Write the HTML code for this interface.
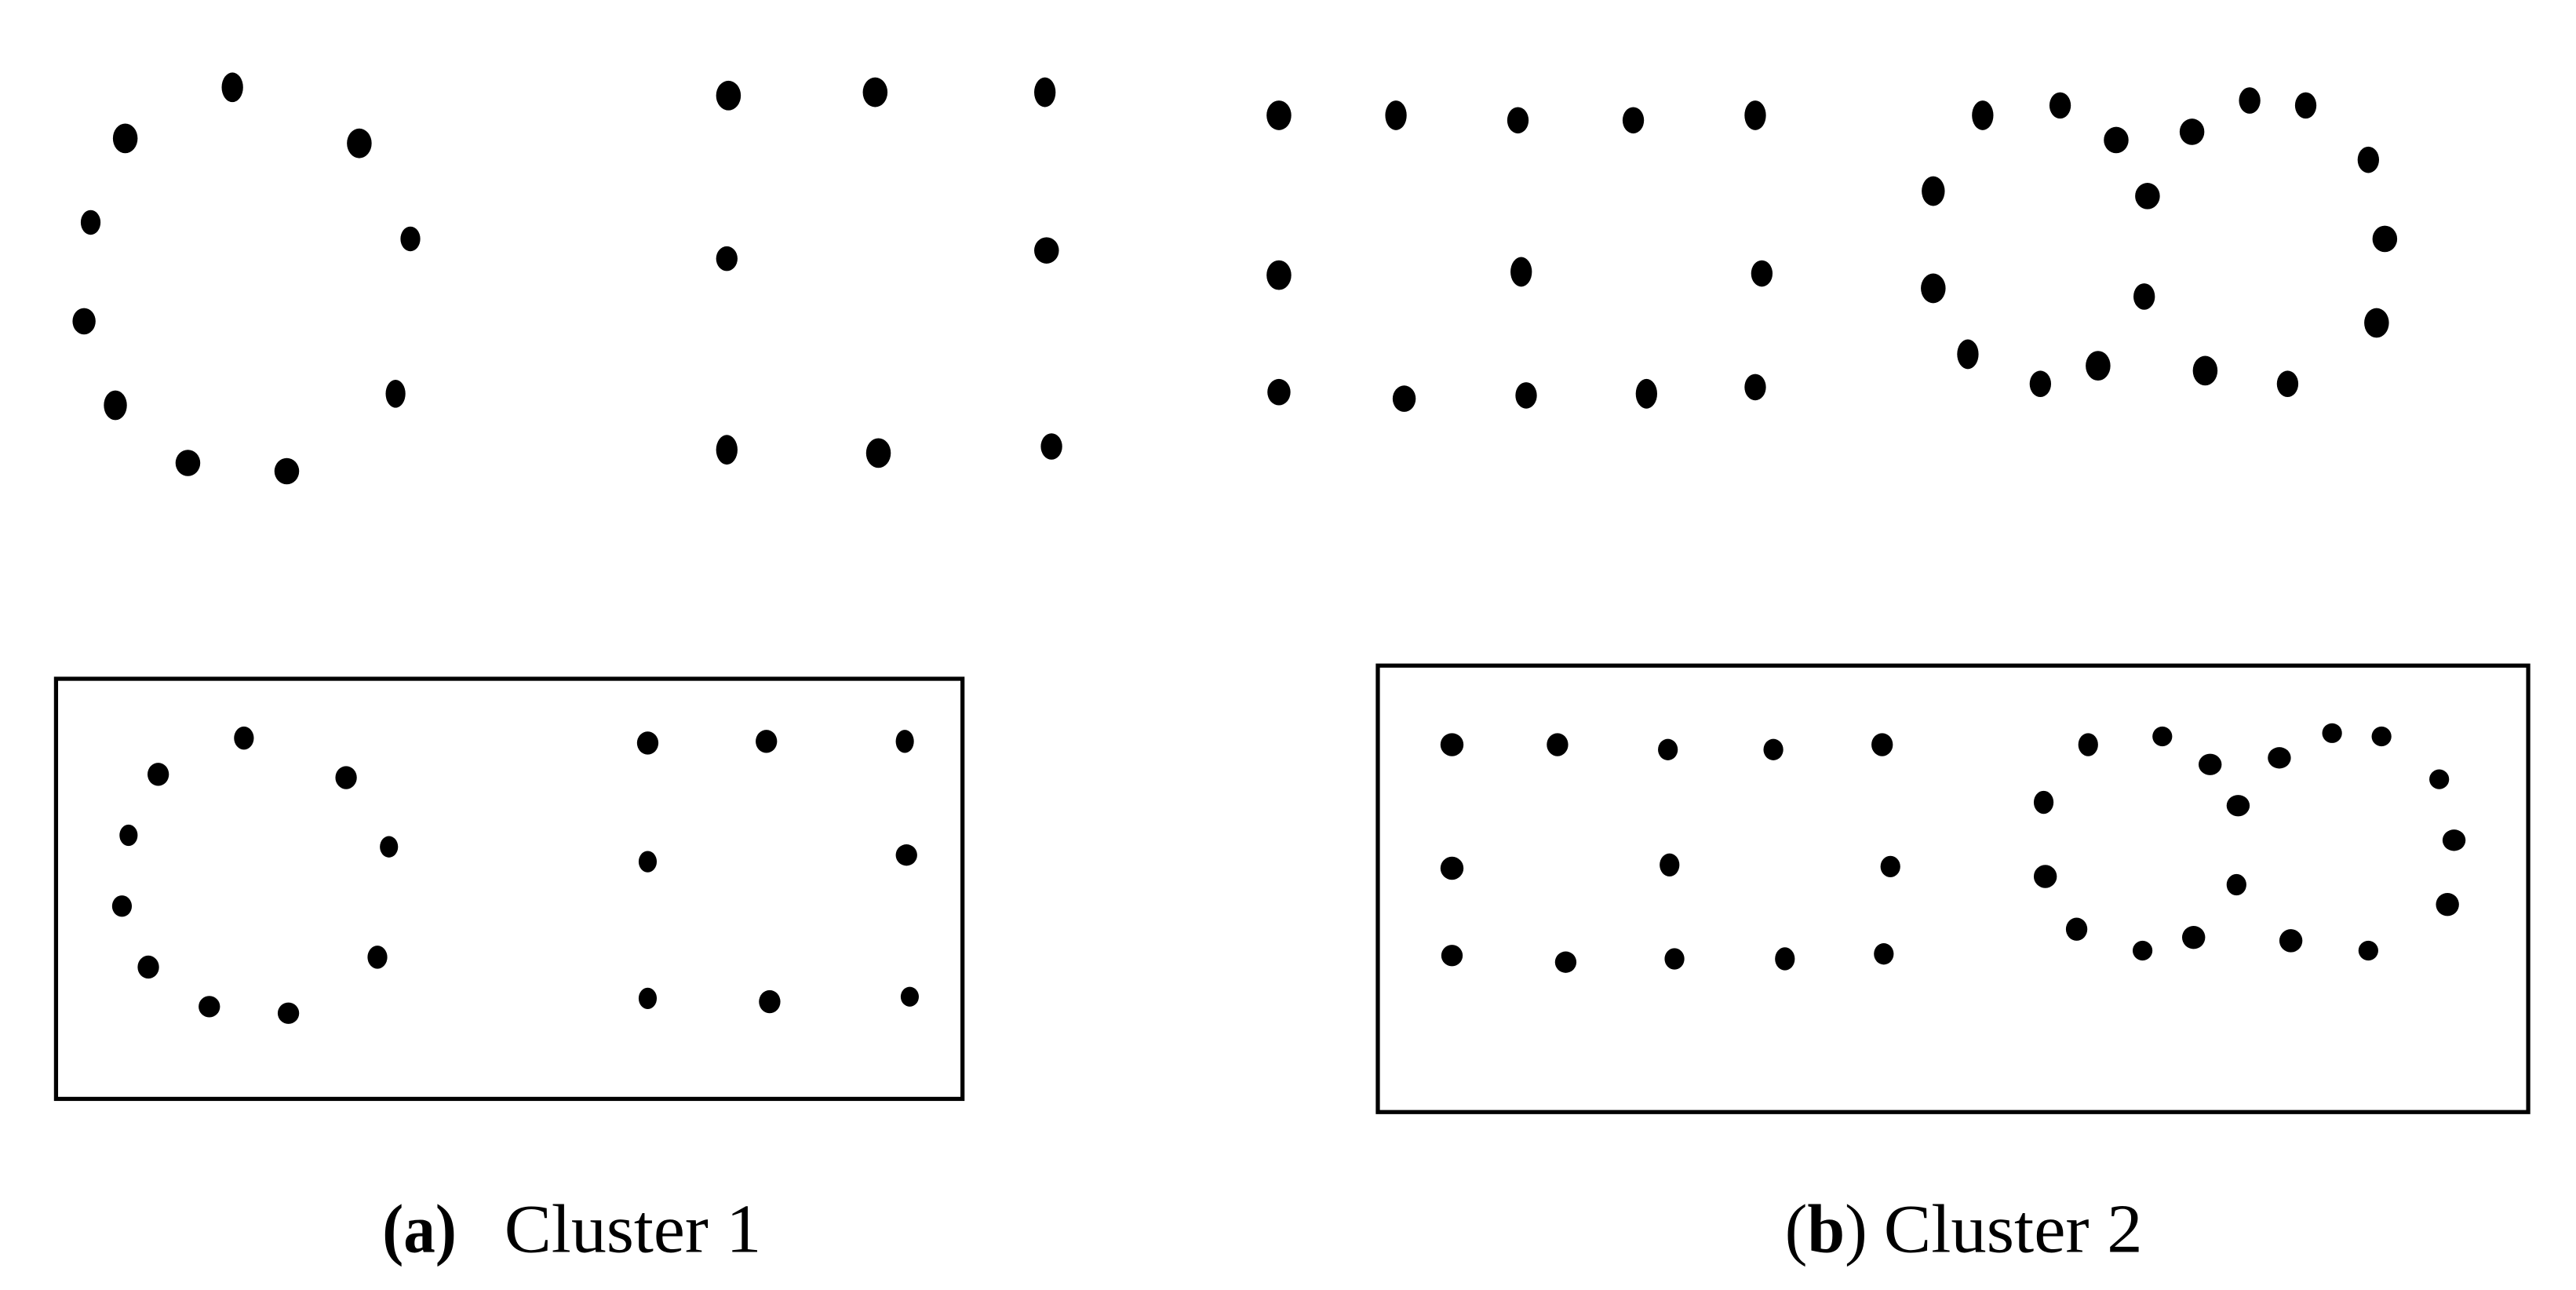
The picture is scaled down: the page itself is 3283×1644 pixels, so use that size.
<!DOCTYPE html>
<html><head><meta charset="utf-8"><style>
html,body{margin:0;padding:0;background:#fff;}
svg{display:block;}
</style></head><body>
<svg width="3283" height="1644" viewBox="0 0 1563 783" preserveAspectRatio="none" xmlns="http://www.w3.org/2000/svg">
<rect width="1563" height="783" fill="#fff"/>
<g fill="#000">
<ellipse cx="141" cy="53" rx="6.5" ry="9"/><ellipse cx="76" cy="84" rx="7.5" ry="9"/><ellipse cx="218" cy="87" rx="7.5" ry="9"/>
<ellipse cx="55" cy="135" rx="6" ry="7.5"/><ellipse cx="249" cy="145" rx="6" ry="7.5"/><ellipse cx="51" cy="195" rx="7" ry="8"/>
<ellipse cx="240" cy="239" rx="6" ry="8.5"/><ellipse cx="70" cy="246" rx="7" ry="9"/><ellipse cx="114" cy="281" rx="7.5" ry="8"/><ellipse cx="174" cy="286" rx="7.5" ry="8"/>
<ellipse cx="442" cy="58" rx="7.5" ry="9"/><ellipse cx="531" cy="56" rx="7.5" ry="9"/><ellipse cx="634" cy="56" rx="6.5" ry="9"/>
<ellipse cx="441" cy="157" rx="6.5" ry="7.5"/><ellipse cx="635" cy="152" rx="7.5" ry="8"/>
<ellipse cx="441" cy="273" rx="6.5" ry="9"/><ellipse cx="533" cy="275" rx="7.5" ry="9"/><ellipse cx="638" cy="271" rx="6.5" ry="8"/>
<ellipse cx="776" cy="70" rx="7.5" ry="9"/><ellipse cx="847" cy="70" rx="6.5" ry="9"/><ellipse cx="921" cy="73" rx="6.5" ry="8"/><ellipse cx="991" cy="73" rx="6.5" ry="8"/><ellipse cx="1065" cy="70" rx="6.5" ry="9"/>
<ellipse cx="776" cy="167" rx="7.5" ry="9"/><ellipse cx="923" cy="165" rx="6.5" ry="9"/><ellipse cx="1069" cy="166" rx="6.5" ry="8"/>
<ellipse cx="776" cy="238" rx="7" ry="8"/><ellipse cx="852" cy="242" rx="7" ry="8"/><ellipse cx="926" cy="240" rx="6.5" ry="8"/><ellipse cx="999" cy="239" rx="6.5" ry="9"/><ellipse cx="1065" cy="235" rx="6.5" ry="8"/>
<ellipse cx="1203" cy="70" rx="6.5" ry="9"/><ellipse cx="1250" cy="64" rx="6.5" ry="8"/><ellipse cx="1284" cy="85" rx="7.5" ry="8"/><ellipse cx="1330" cy="80" rx="7.5" ry="8"/>
<ellipse cx="1365" cy="61" rx="6.5" ry="8"/><ellipse cx="1399" cy="64" rx="6.5" ry="8"/><ellipse cx="1437" cy="97" rx="6.5" ry="8"/><ellipse cx="1173" cy="116" rx="7" ry="9"/>
<ellipse cx="1303" cy="119" rx="7.5" ry="8"/><ellipse cx="1447" cy="145" rx="7.5" ry="8"/><ellipse cx="1173" cy="175" rx="7.5" ry="9"/><ellipse cx="1301" cy="180" rx="6.5" ry="8"/>
<ellipse cx="1442" cy="196" rx="7.5" ry="9"/><ellipse cx="1194" cy="215" rx="6.5" ry="9"/><ellipse cx="1238" cy="233" rx="6.5" ry="8"/><ellipse cx="1273" cy="222" rx="7.5" ry="9"/>
<ellipse cx="1338" cy="225" rx="7.5" ry="9"/><ellipse cx="1388" cy="233" rx="6.5" ry="8"/>
</g>
<rect x="34" y="412" width="550" height="255" fill="none" stroke="#000" stroke-width="2.5"/>
<rect x="836" y="404" width="698" height="271" fill="none" stroke="#000" stroke-width="2.5"/>
<g fill="#000">
<ellipse cx="148" cy="448" rx="6" ry="7"/><ellipse cx="96" cy="470" rx="6.5" ry="7"/><ellipse cx="210" cy="472" rx="6.5" ry="7"/><ellipse cx="78" cy="507" rx="5.5" ry="6.5"/>
<ellipse cx="236" cy="514" rx="5.5" ry="6.5"/><ellipse cx="74" cy="550" rx="6" ry="6.5"/><ellipse cx="90" cy="587" rx="6.5" ry="7"/><ellipse cx="229" cy="581" rx="6" ry="7"/>
<ellipse cx="127" cy="611" rx="6.5" ry="6.5"/><ellipse cx="175" cy="615" rx="6.5" ry="6.5"/>
<ellipse cx="393" cy="451" rx="6.5" ry="7"/><ellipse cx="465" cy="450" rx="6.5" ry="7"/><ellipse cx="549" cy="450" rx="5.5" ry="7"/>
<ellipse cx="393" cy="523" rx="5.5" ry="6.5"/><ellipse cx="550" cy="519" rx="6.5" ry="6.5"/>
<ellipse cx="393" cy="606" rx="5.5" ry="6.5"/><ellipse cx="467" cy="608" rx="6.5" ry="7"/><ellipse cx="552" cy="605" rx="5.5" ry="6"/>
<ellipse cx="881" cy="452" rx="7" ry="7"/><ellipse cx="945" cy="452" rx="6.5" ry="7"/><ellipse cx="1012" cy="455" rx="6" ry="6.5"/><ellipse cx="1076" cy="455" rx="6" ry="6.5"/><ellipse cx="1142" cy="452" rx="6.5" ry="7"/>
<ellipse cx="881" cy="527" rx="7" ry="7"/><ellipse cx="1013" cy="525" rx="6" ry="7"/><ellipse cx="1147" cy="526" rx="6" ry="6.5"/>
<ellipse cx="881" cy="580" rx="6.5" ry="6.5"/><ellipse cx="950" cy="584" rx="6.5" ry="6.5"/><ellipse cx="1016" cy="582" rx="6" ry="6.5"/><ellipse cx="1083" cy="582" rx="6" ry="7"/><ellipse cx="1143" cy="579" rx="6" ry="6.5"/>
<ellipse cx="1267" cy="452" rx="6" ry="7"/><ellipse cx="1312" cy="447" rx="6" ry="6"/><ellipse cx="1341" cy="464" rx="7" ry="6.5"/><ellipse cx="1383" cy="460" rx="7" ry="6.5"/>
<ellipse cx="1415" cy="445" rx="6" ry="6"/><ellipse cx="1445" cy="447" rx="6" ry="6"/><ellipse cx="1480" cy="473" rx="6" ry="6"/><ellipse cx="1240" cy="487" rx="6" ry="7"/>
<ellipse cx="1358" cy="489" rx="7" ry="6.5"/><ellipse cx="1489" cy="510" rx="7" ry="6.5"/><ellipse cx="1241" cy="532" rx="7" ry="7"/><ellipse cx="1357" cy="537" rx="6" ry="6.5"/>
<ellipse cx="1485" cy="549" rx="7" ry="7"/><ellipse cx="1260" cy="564" rx="6.5" ry="7"/><ellipse cx="1300" cy="577" rx="6" ry="6"/><ellipse cx="1331" cy="569" rx="7" ry="7"/>
<ellipse cx="1390" cy="571" rx="7" ry="7"/><ellipse cx="1437" cy="577" rx="6" ry="6"/>
</g>
<g font-family="Liberation Serif, serif" font-size="42" fill="#000">
<text x="232" y="760" font-weight="bold" textLength="45" lengthAdjust="spacingAndGlyphs">(a)</text>
<text x="306" y="760" textLength="156" lengthAdjust="spacingAndGlyphs">Cluster 1</text>
<text x="1083" y="760" textLength="50" lengthAdjust="spacingAndGlyphs">(<tspan font-weight="bold">b</tspan>)</text>
<text x="1143" y="760" textLength="157" lengthAdjust="spacingAndGlyphs">Cluster 2</text>
</g>
</svg>
</body></html>
